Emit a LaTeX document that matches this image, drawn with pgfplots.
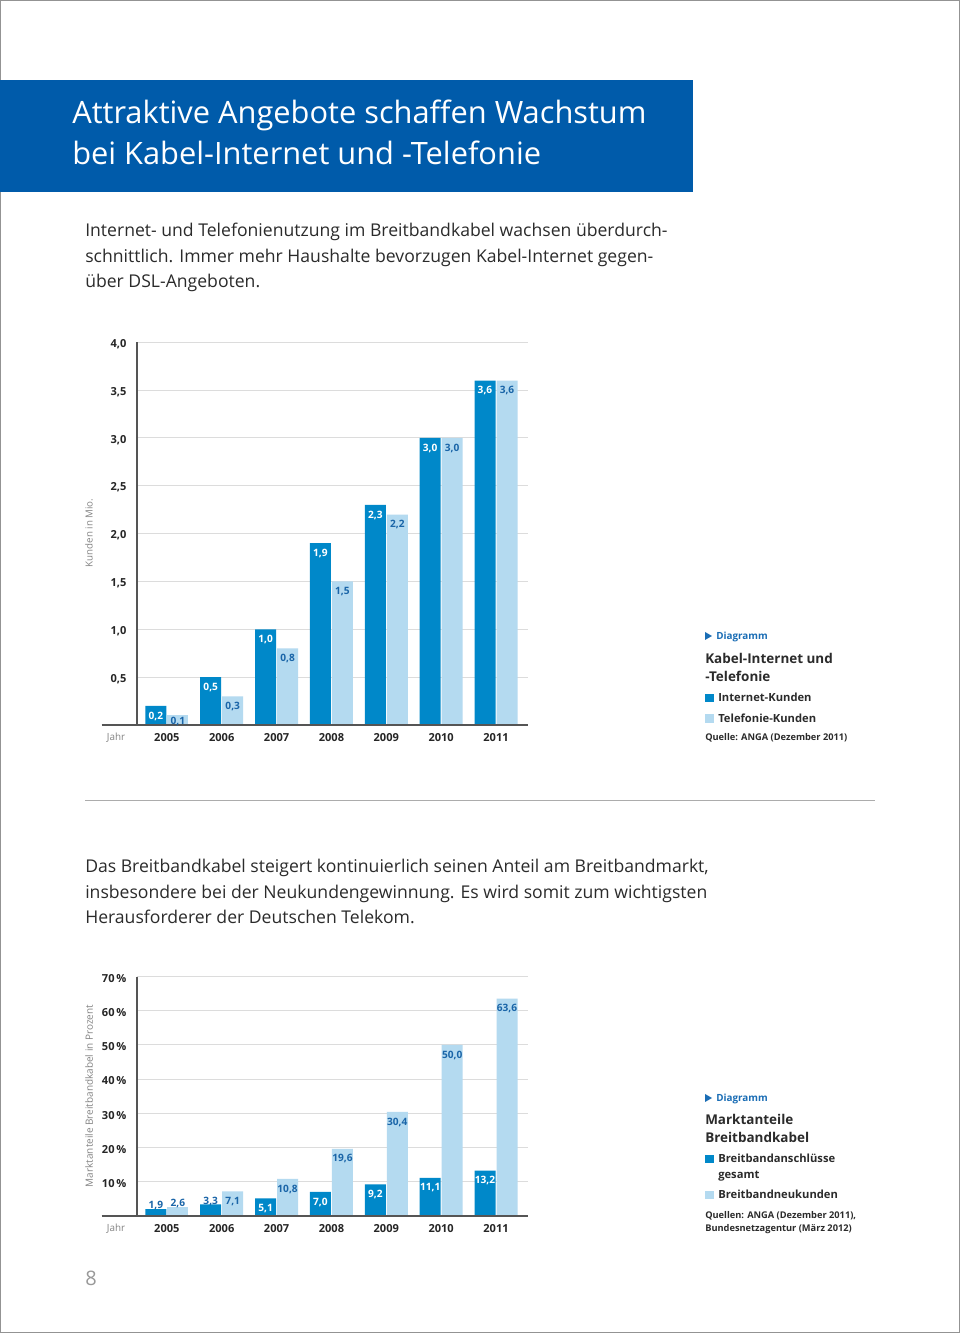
\documentclass[border=0pt]{standalone}
\usepackage{pgfplots}
\pgfplotsset{compat=1.18}
\usepackage{fontspec}
\setmainfont{Open Sans}
\definecolor{titleblue}{HTML}{005BAA}
\definecolor{darkbar}{HTML}{0088C9}
\definecolor{lightbar}{HTML}{B4DAF0}
\definecolor{lblblue}{HTML}{1A65A8}
\definecolor{bodytext}{HTML}{2B2B2B}
\definecolor{ticktext}{HTML}{262626}
\definecolor{gridgray}{HTML}{DCDCDC}
\definecolor{axisgray}{HTML}{555555}
\definecolor{labelgray}{HTML}{858585}
\definecolor{diagblue}{HTML}{1A6DB5}

\pgfplotsset{
  pagechart/.style={
    scale only axis, width=293.25pt,
    xmin=-0.55, xmax=6.578, ymin=0,
    axis line style={draw=none},
    ymajorgrids, grid style={color=gridgray, line width=0.75pt},
    xtick={0,...,6}, xticklabels={2005,2006,2007,2008,2009,2010,2011},
    major tick length=0pt,
    tick label style={font=\bfseries\fontsize{8.3}{10}\selectfont, text=ticktext},
    yticklabel style={inner sep=0pt, anchor=east, xshift=-7.5pt, yshift=-1.4pt},
    xticklabel style={inner sep=0pt, anchor=north, yshift=-6.5pt},
    clip=false, ybar, bar width=15.75pt,
    /pgf/number format/assume math mode=true,
    nodes near coords={\pgfmathprintnumber[fixed,fixed zerofill,precision=1,use comma]{\pgfplotspointmeta}},
  },
  inlbl/.style={every node near coord/.append style={anchor=north, yshift=-4.2pt, inner sep=0pt, font=\bfseries\fontsize{7.6}{9}\selectfont, text=#1}},
  uplbl/.style={every node near coord/.append style={anchor=south, yshift=-0.9pt, inner sep=0pt, font=\bfseries\fontsize{7.6}{9}\selectfont, text=#1}},
}

\begin{document}
\begin{tikzpicture}[x=0.75pt,y=0.75pt]
% page
\fill[white] (0,0) rectangle (960,1333);
\draw[gray!85, line width=1.1pt] (0.75,0.75) rectangle (959.25,1332.25);
\coordinate (c1) at (136.7,608);
\coordinate (c2) at (136.7,117.3);
% title box
\fill[titleblue] (0,1333-192) rectangle (693,1333-80);
\node[anchor=base west, inner sep=0pt, text=white, font=\fontsize{23.1}{27}\selectfont] at (72,1333-123.5) {Attraktive Angebote schaffen Wachstum};
\node[anchor=base west, inner sep=0pt, text=white, font=\fontsize{23.1}{27}\selectfont] at (72,1333-165) {bei Kabel-Internet und -Telefonie};
% body text
\begin{scope}[every node/.style={anchor=base west, inner sep=0pt, text=bodytext, font=\fontsize{13.2}{15}\selectfont}]
\node at (85,1333-237) {Internet- und Telefonienutzung im Breitbandkabel wachsen überdurch-};
\node at (85,1333-262.5) {schnittlich. Immer mehr Haushalte bevorzugen Kabel-Internet gegen-};
\node at (85,1333-288) {über DSL-Angeboten.};
\node at (85,1333-873) {Das Breitbandkabel steigert kontinuierlich seinen Anteil am Breitbandmarkt,};
\node at (85,1333-898.5) {insbesondere bei der Neukundengewinnung. Es wird somit zum wichtigsten};
\node at (85,1333-924) {Herausforderer der Deutschen Telekom.};
\end{scope}
% separator
\draw[gray!65, line width=0.75pt] (85,1333-801) -- (875,1333-801);
% page number
\node[anchor=base west, inner sep=0pt, text=gray!80, font=\fontsize{15}{18}\selectfont] at (85,1333-1286) {8};

% ---------- chart 1 ----------
\begin{axis}[pagechart, at={(c1)}, anchor=south west, height=287pt, ymax=4,
  ytick={0.5,1,1.5,2,2.5,3,3.5,4},
  yticklabels={{0,5},{1,0},{1,5},{2,0},{2,5},{3,0},{3,5},{4,0}}]
\addplot[fill=darkbar, draw=none, bar shift=-8.25pt, inlbl=white] coordinates {(0,0.2) (1,0.5) (2,1.0) (3,1.9) (4,2.3) (5,3.0) (6,3.6)};
\addplot[fill=lightbar, draw=none, bar shift=8.25pt, inlbl=lblblue] coordinates {(1,0.3) (2,0.8) (3,1.5) (4,2.2) (5,3.0) (6,3.6)};
\addplot[fill=lightbar, draw=none, bar shift=8.25pt, inlbl=lblblue, every node near coord/.append style={yshift=2.8pt}] coordinates {(0,0.1)};
\draw[axisgray, line width=1.2pt] (axis cs:-0.55,0) -- (axis cs:-0.55,4);
\draw[axisgray, line width=1.5pt] (axis cs:-1.189,0) -- (axis cs:6.578,0);
\end{axis}
\node[inner sep=0pt, text=labelgray, font=\fontsize{7.4}{9}\selectfont] at (116,1333-738) {Jahr};
\node[inner sep=0pt, rotate=90, text=labelgray, font=\fontsize{7.3}{9}\selectfont] at (89,1333-533) {Kunden in Mio.};

% legend 1
\fill[diagblue] (705,1333-632) -- (712,1333-636) -- (705,1333-640) -- cycle;
\node[anchor=base west, inner sep=0pt, text=diagblue, font=\bfseries\fontsize{7.4}{9}\selectfont] at (716,1333-639.5) {Diagramm};
\node[anchor=base west, inner sep=0pt, text=bodytext, font=\bfseries\fontsize{10.1}{13}\selectfont] at (705,1333-664) {Kabel-Internet und};
\node[anchor=base west, inner sep=0pt, text=bodytext, font=\bfseries\fontsize{10.1}{13}\selectfont] at (705,1333-681.5) {-Telefonie};
\fill[darkbar] (705,1333-694) rectangle (714,1333-702.3);
\node[anchor=base west, inner sep=0pt, text=bodytext, font=\bfseries\fontsize{8.4}{10}\selectfont] at (718,1333-702) {Internet-Kunden};
\fill[lightbar] (705,1333-714.3) rectangle (714,1333-722.6);
\node[anchor=base west, inner sep=0pt, text=bodytext, font=\bfseries\fontsize{8.4}{10}\selectfont] at (718,1333-722.4) {Telefonie-Kunden};
\node[anchor=base west, inner sep=0pt, text=bodytext, font=\bfseries\fontsize{6.95}{8}\selectfont] at (705,1333-741) {Quelle: ANGA (Dezember 2011)};

% ---------- chart 2 ----------
\begin{axis}[pagechart, at={(c2)}, anchor=south west, height=179.25pt, ymax=70,
  ytick={10,20,30,40,50,60,70},
  yticklabels={10\,\%,20\,\%,30\,\%,40\,\%,50\,\%,60\,\%,70\,\%}]
\addplot[fill=darkbar, draw=none, bar shift=-8.25pt, uplbl=lblblue] coordinates {(0,1.9) (1,3.3)};
\addplot[fill=darkbar, draw=none, bar shift=-8.25pt, inlbl=white] coordinates {(2,5.1) (3,7.0) (4,9.2) (5,11.1) (6,13.2)};
\addplot[fill=lightbar, draw=none, bar shift=8.25pt, uplbl=lblblue] coordinates {(0,2.6)};
\addplot[fill=lightbar, draw=none, bar shift=8.25pt, inlbl=lblblue] coordinates {(1,7.1) (2,10.8) (3,19.6) (4,30.4) (5,50.0) (6,63.6)};
\draw[axisgray, line width=1.2pt] (axis cs:-0.55,0) -- (axis cs:-0.55,70);
\draw[axisgray, line width=1.5pt] (axis cs:-1.189,0) -- (axis cs:6.578,0);
\end{axis}
\node[inner sep=0pt, text=labelgray, font=\fontsize{7.4}{9}\selectfont] at (116,1333-1229) {Jahr};
\node[inner sep=0pt, rotate=90, text=labelgray, font=\fontsize{7.5}{9}\selectfont] at (89,1333-1096) {Marktanteile Breitbandkabel in Prozent};

% legend 2
\fill[diagblue] (705,1333-1094) -- (712,1333-1098) -- (705,1333-1102) -- cycle;
\node[anchor=base west, inner sep=0pt, text=diagblue, font=\bfseries\fontsize{7.4}{9}\selectfont] at (716,1333-1101.5) {Diagramm};
\node[anchor=base west, inner sep=0pt, text=bodytext, font=\bfseries\fontsize{10.1}{13}\selectfont] at (705,1333-1125) {Marktanteile};
\node[anchor=base west, inner sep=0pt, text=bodytext, font=\bfseries\fontsize{10.1}{13}\selectfont] at (705,1333-1143) {Breitbandkabel};
\fill[darkbar] (705,1333-1155) rectangle (714,1333-1163.3);
\node[anchor=base west, inner sep=0pt, text=bodytext, font=\bfseries\fontsize{8.4}{10}\selectfont] at (718,1333-1163) {Breitbandanschlüsse};
\node[anchor=base west, inner sep=0pt, text=bodytext, font=\bfseries\fontsize{8.4}{10}\selectfont] at (718,1333-1179) {gesamt};
\fill[lightbar] (705,1333-1191) rectangle (714,1333-1199.3);
\node[anchor=base west, inner sep=0pt, text=bodytext, font=\bfseries\fontsize{8.4}{10}\selectfont] at (718,1333-1199) {Breitbandneukunden};
\node[anchor=base west, inner sep=0pt, text=bodytext, font=\bfseries\fontsize{6.95}{8}\selectfont] at (705,1333-1219) {Quellen: ANGA (Dezember 2011),};
\node[anchor=base west, inner sep=0pt, text=bodytext, font=\bfseries\fontsize{6.95}{8}\selectfont] at (705,1333-1232) {Bundesnetzagentur (März 2012)};
\end{tikzpicture}
\end{document}
